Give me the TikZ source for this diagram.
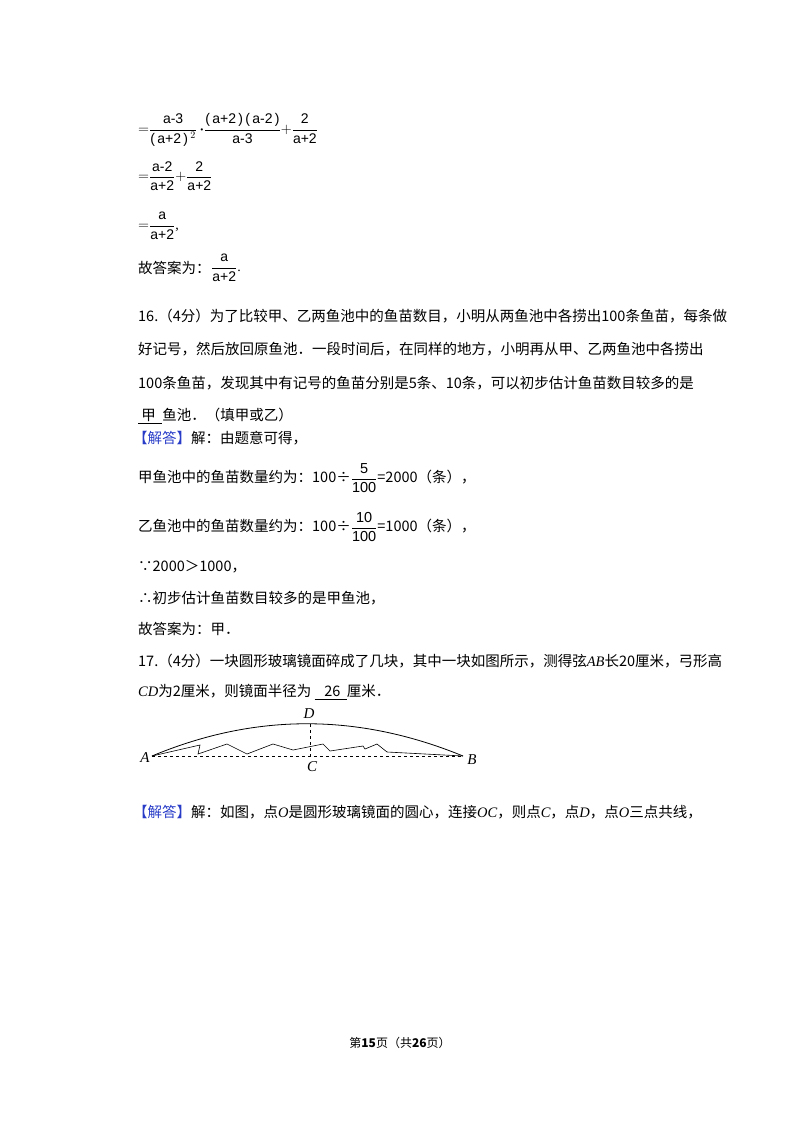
\documentclass[tikz,border=0pt]{standalone}
\usepackage{amsmath}
\usepackage{fontspec}
\setmainfont{Liberation Serif}
\setsansfont{Liberation Sans}
\newfontfamily\cjk{Noto Sans CJK SC}
\definecolor{ansblue}{RGB}{40,60,200}
\newcommand{\fr}[2]{$\genfrac{}{}{0.6pt}{0}{\textsf{#1}}{\textsf{#2}}$}
\newcommand{\iv}[1]{{\rmfamily\itshape #1}}
\begin{document}
\begin{tikzpicture}[x=1pt,y=-1pt,
  txt/.style={anchor=west,inner sep=0pt,font=\fontsize{14.5}{16}\cjk},
  mth/.style={inner sep=0pt,font=\fontsize{14}{16}\selectfont},
  lbl/.style={inner sep=0pt,font=\fontsize{15}{16}\rmfamily\itshape}]
\useasboundingbox (0,0) rectangle (800,1132);
% formulas
\node[mth,anchor=west] (f1) at (138,130) {$=$\fr{\ a-3\ }{(\,a+2\,)\,$^{2}$}$\,\boldsymbol{\cdot}$\fr{(\,a+2\,)\,(\,a-2\,)}{a-3}$+$\fr{\ 2\ }{a+2}};
\node[mth,anchor=west] (f2) at (138,176) {$=$\fr{a-2}{a+2}$+$\fr{2}{a+2}};
\node[mth,anchor=west] (f3) at (138,226) {$=$\fr{a}{a+2},};
\node[txt] (f4a) at (138,268) {故答案为：};
\node[mth,anchor=west] (f4) at (f4a.east) {\fr{a}{a+2}.};
% problem 16
\node[txt] (p1) at (138,316) {16.（4分）为了比较甲、乙两鱼池中的鱼苗数目，小明从两鱼池中各捞出100条鱼苗，每条做};
\node[txt] (p2) at (138,349) {好记号，然后放回原鱼池．一段时间后，在同样的地方，小明再从甲、乙两鱼池中各捞出};
\node[txt] (p3) at (138,383) {100条鱼苗，发现其中有记号的鱼苗分别是5条、10条，可以初步估计鱼苗数目较多的是};
\node[txt] (p4) at (138,416) {\underline{\ 甲\ \ }鱼池．（填甲或乙）};
\node[txt] (s1) at (133,438) {{\color{ansblue}【解答】}解：由题意可得，};
\node[txt] (s2) at (138,478) {甲鱼池中的鱼苗数量约为：100÷\fr{5}{100}=2000（条），};
\node[txt] (s3) at (138,527) {乙鱼池中的鱼苗数量约为：100÷\fr{10}{100}=1000（条），};
\node[txt] (s4) at (138,567) {∵2000＞1000，};
\node[txt] (s5) at (138,598) {∴初步估计鱼苗数目较多的是甲鱼池，};
\node[txt] (s6) at (138,629) {故答案为：甲．};
% problem 17
\node[txt] (q1) at (138,661) {17.（4分）一块圆形玻璃镜面碎成了几块，其中一块如图所示，测得弦\iv{AB}长20厘米，弓形高};
\node[txt] (q2) at (138,692) {\iv{CD}为2厘米，则镜面半径为\ \underline{\ \ \ 26\ \ }厘米．};
% figure
\coordinate (A) at (152,756);
\coordinate (B) at (463,756);
\coordinate (C) at (310,756);
\coordinate (D) at (310,724);
\draw[line width=0.8pt] (A) .. controls (255,713) and (358,713) .. (B);
\draw[dashed,line width=0.6pt] (A) -- (B);
\draw[dashed,line width=0.6pt] (D) -- (C);
\draw[line width=0.6pt] (A) -- (200,745) -- (198,754) -- (227,744) -- (247,754) -- (273,744) -- (293,750) -- (323,744) -- (330,751) -- (363,746) -- (365,749) -- (377,744) -- (387,752) -- (B);
\node[lbl] (la) at (145,758) {A};
\node[lbl] (lb) at (472,760) {B};
\node[lbl] (lc) at (312,767) {C};
\node[lbl] (ld) at (309,714) {D};
\node[txt] (r1) at (133,812) {{\color{ansblue}【解答】}解：如图，点\iv{O}是圆形玻璃镜面的圆心，连接\iv{OC}，则点\iv{C}，点\iv{D}，点\iv{O}三点共线，};
% footer
\node[inner sep=0pt,font=\fontsize{12}{14}\cjk] (ft) at (400,1043) {第\textbf{15}页（共\textbf{26}页）};
\end{tikzpicture}
\end{document}
